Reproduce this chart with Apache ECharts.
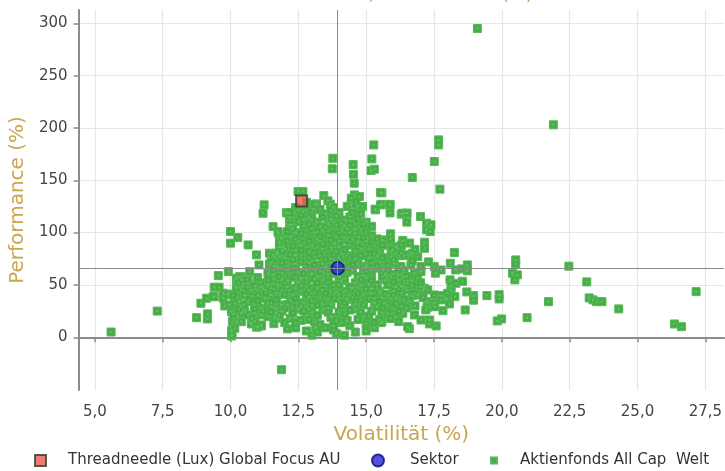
<!DOCTYPE html>
<html>
<head>
<meta charset="utf-8">
<title>Performance / Volatilität</title>
<script src="https://cdn.jsdelivr.net/npm/echarts@6/dist/echarts.min.js"></script>
<style>
  html, body { margin: 0; padding: 0; background: #fff; }
  #chart { width: 725px; height: 471px; }
</style>
</head>
<body>
<div id="chart"></div>
<script>
// Achsen
const xTicks = [5, 7.5, 10, 12.5, 15, 17.5, 20, 22.5, 25, 27.5];
const yTicks = [0, 50, 100, 150, 200, 250, 300];

// Fonds und Sektor [Volatilität, Performance]
const fundName = 'Threadneedle (Lux) Global Focus AU';
const fundPoint = [12.62, 130.2];
const sectorName = 'Sektor';
const sectorPoint = [13.95, 65.9];
const peerName = 'Aktienfonds All Cap  Welt';

// Vergleichsgruppe, aussen
const peerOuter = [
  [5.6, 5], [7.3, 25], [19.1, 295], [21.9, 203],
  [17.67, 188.6], [17.67, 183.8], [17.51, 167.9], [16.7, 152.6], [17.72, 141.5], [15.58, 138],
  [15.88, 127], [15.88, 118.8], [15.58, 127], [16.29, 117.6], [16.47, 118.5], [16.5, 110], [17.0, 115.3],
  [17.23, 109], [17.39, 107.4], [17.23, 102.6], [17.36, 101], [15.9, 98.8], [16.35, 92.4], [17.15, 90.8], [17.15, 85],
  [18.25, 80.9], [18.1, 70.7], [18.73, 69.1], [18.73, 63.4], [18.3, 64.3], [18.5, 65.3], [17.51, 67.5], [17.55, 61.2],
  [20.51, 73.9], [20.51, 70.1], [20.39, 61.2], [20.57, 59.6], [20.48, 54.8], [22.47, 67.9], [23.13, 52.9],
  [23.22, 37.6], [23.36, 35.7], [23.49, 34], [23.69, 34], [21.72, 34], [24.31, 27.1], [27.16, 43.6], [26.36, 12.7], [26.62, 10.1],
  [20.93, 18.7], [19.83, 15.6], [19.99, 17.5], [19.45, 39.8], [19.9, 40.7], [19.9, 36.6], [18.96, 39.8], [18.96, 35.4], [18.65, 26.1],
  [18.09, 54.8], [18.13, 49.3], [18.13, 44.6], [18.31, 51.6], [18.55, 53.5], [18.71, 43.3], [18.27, 38.8],
  [17.74, 39.8], [17.95, 36.6], [18.07, 31.8], [17.83, 25.4], [17.58, 10.8], [17.33, 16.5], [17.33, 12.7],
  [17.25, 34], [17.25, 28.3], [17.5, 32.5], [17.53, 29.3], [17.14, 46.8], [16.59, 8.2],
  [17.02, 62.7], [16.78, 61.2], [16.65, 54.8], [16.71, 49.3], [17.12, 45.2], [16.9, 40.4], [16.71, 39.8], [16.53, 45.2], [16.4, 57.9], [16.35, 49],
  [16.1, 37.3], [16.1, 19.1], [16.35, 22.9], [16.04, 27.1], [15.8, 39.8], [15.67, 32.5], [15.58, 14.9], [15.58, 22.9], [15.77, 57], [15.69, 59.6],
  [16.22, 78], [16.4, 78], [16.65, 79], [15.92, 81.8], [15.92, 77], [16.1, 86.6],
  [11.88, -31], [10.04, 1.2], [10.04, 6.3], [9.15, 17.5], [9.15, 22.3], [13.9, 3.8], [13.14, 9.2], [10.96, 9.6], [11.14, 10.8], [10.77, 13.4], [15.55, 14],
  [9.55, 58.9], [9.92, 62.7], [10.65, 88.2], [10.0, 89.9], [10.96, 78.7], [11.05, 69.1], [11.44, 70], [11.38, 61.2], [11.44, 80.3], [11.69, 80.3],
  [13.77, 171], [13.75, 161], [14.52, 165], [14.53, 155.8], [14.56, 147.2], [15.28, 183.8], [15.21, 170.4], [15.18, 159.3], [15.3, 160.6], [15.53, 138.2], [15.34, 121.7], [15.53, 126.5],
  [11.24, 126.5], [11.2, 118.5], [11.57, 105.7], [11.77, 99.4], [11.87, 94.6], [12.49, 139.2], [12.67, 139.2], [12.06, 119.1], [12.18, 113.8], [12.18, 107.4],
  [13.44, 135.4], [13.59, 130.3], [13.68, 127.2], [13.17, 127.4], [13.04, 122.4], [14.57, 136], [14.75, 134.4], [14.44, 126.5], [14.69, 124.9], [14.87, 124.9], [14.45, 132.9], [14.63, 129.6],
  [10.0, 101], [10.27, 95.2], [8.75, 18.7], [8.91, 32.5], [9.12, 37.3], [9.4, 38.8], [9.4, 47.8], [9.58, 47.8], [9.36, 38.8],
  [9.73, 37.3], [9.79, 29.9], [9.94, 30.9], [10.04, 24.5], [10.07, 14.9], [10.28, 19.7], [10.4, 14.9], [10.16, 8.6], [9.89, 41.1],
  [10.06, 2.2], [10.1, 22], [10.53, 24.5], [10.77, 12.7], [11.01, 10.1], [11.14, 11.8]
];

// Vergleichsgruppe, linker Bereich
const peerLeft = [
  [10.22, 56.4], [10.34, 57.9], [10.65, 57.9], [10.71, 62.7],
  [10.22, 48.4], [10.4, 45.2], [10.65, 48.4], [10.77, 45.2], [10.96, 45.2], [11.14, 48.4], [11.26, 45.2],
  [10.28, 38.8], [10.53, 40.4], [10.77, 38.8], [11.01, 40.4], [11.26, 37.3], [11.5, 40.4], [11.69, 42.1],
  [10.16, 32.5], [10.4, 29.3], [10.65, 34], [10.89, 30.9], [11.14, 27.7], [11.38, 32.5], [11.63, 27.7], [11.88, 30.9],
  [10.4, 23], [10.65, 21.3], [10.89, 23], [11.14, 21.3], [11.38, 19.7], [11.63, 19.7], [11.75, 18.2],
  [9.73, 42.1], [9.91, 41.1], [10.22, 46.8], [10.89, 46.8], [11.38, 50], [11.75, 50], [11.2, 46.8], [11.63, 51.6], [10.4, 54.8], [10.65, 51.6], [10.89, 49],
  [12.24, 107.4], [12.36, 118.5], [12.49, 121.7], [11.75, 101], [11.81, 91.4], [11.93, 86.6], [11.75, 80.3], [11.63, 77], [11.57, 59.6], [11.73, 67.5],
  [11.93, 77], [11.81, 86.6], [11.93, 83.5], [11.57, 78.7], [11.81, 77], [11.63, 67.5],
  [14.5, 123.3], [12.67, 120], [12.79, 121.7], [12.12, 118.5], [12.49, 110.5], [12.67, 112.1],
  [10.3, 52], [10.5, 44], [10.7, 36], [10.9, 27], [11.1, 52], [11.3, 42], [11.5, 30], [11.7, 23], [10.5, 31], [10.8, 18],
  [11.0, 35], [11.2, 25], [11.4, 55], [10.1, 40], [10.3, 27], [10.6, 55], [11.0, 57], [11.5, 47], [10.9, 15], [11.6, 13]
];

// Vergleichsgruppe, rechter Bereich
const peerRight = [
  [15.33, 122.4], [15.88, 126.5], [16.34, 118.5], [16.51, 118.5],
  [15.61, 93], [15.79, 88.2], [15.98, 83.5], [16.16, 85.1], [16.28, 80.3], [16.53, 78.7], [16.71, 80.3], [16.9, 77], [17.02, 67.5], [17.76, 64.3],
  [16.04, 70.7], [16.28, 67.5], [16.65, 69.1], [16.16, 59.6], [15.92, 57.9],
  [16.28, 48.4], [16.53, 51.6], [16.78, 42], [17.02, 48.4], [17.27, 45.2], [17.51, 40.4], [17.76, 35.7], [18.0, 42], [17.51, 29.3], [17.2, 26.1], [17.02, 16.5], [16.53, 10.1], [16.78, 21.3],
  [15.9, 94], [16.3, 88], [16.6, 90], [16.8, 84], [16.4, 64], [16.9, 57], [16.7, 73], [17.3, 72], [17.0, 52], [16.6, 35],
  [16.8, 30], [17.1, 38], [16.2, 15], [16.5, 28]
];

// Vergleichsgruppe, dichter Kern
const peerCore = [
  [13.1, 127], [13.3, 122], [13.5, 118], [13.8, 124], [14.0, 119], [14.2, 112], [13.2, 110], [13.6, 108], [14.4, 115], [14.6, 108], [14.8, 118],
  [12.9, 114], [13.9, 104], [14.1, 102], [13.4, 102], [12.7, 106], [15.0, 110], [14.3, 125], [13.0, 119], [12.4, 124], [12.2, 119], [12.8, 129], [13.7, 113],
  [12.2, 96], [12.5, 92], [12.8, 98], [13.0, 88], [13.2, 94], [13.4, 84], [13.6, 97], [13.8, 90], [14.0, 86], [14.2, 95], [14.4, 88], [14.6, 99],
  [14.8, 84], [15.0, 92], [15.3, 87], [12.4, 83], [12.9, 82], [13.5, 81], [14.1, 80], [14.7, 91], [15.2, 97], [13.1, 100], [13.7, 86], [14.3, 93],
  [12.6, 88], [15.5, 82], [11.8, 90], [12.0, 85],
  [11.5, 72], [11.8, 66], [12.0, 76], [12.2, 60], [12.4, 70], [12.6, 78], [12.8, 64], [13.0, 73], [13.2, 58], [13.3, 78], [13.5, 67], [13.7, 75],
  [13.9, 61], [14.1, 72], [14.3, 78], [14.5, 64], [14.7, 70], [14.9, 59], [15.1, 76], [15.3, 66], [15.5, 72], [15.7, 60], [12.1, 68], [12.5, 62],
  [13.1, 65], [13.6, 60], [14.0, 76], [14.6, 75], [15.0, 68], [15.4, 78], [12.9, 71], [14.2, 67], [13.4, 70], [11.9, 61], [15.8, 69],
  [11.9, 55], [12.1, 48], [12.3, 40], [12.5, 52], [12.7, 33], [12.9, 45], [13.1, 56], [13.3, 38], [13.5, 49], [13.7, 31], [13.9, 43], [14.1, 54],
  [14.3, 36], [14.5, 47], [14.7, 58], [14.9, 40], [15.1, 51], [15.3, 33], [15.5, 44], [15.7, 55], [15.9, 37], [16.1, 48], [16.3, 42], [12.2, 35],
  [12.6, 44], [13.0, 30], [13.4, 55], [13.8, 50], [14.2, 44], [14.6, 32], [15.0, 57], [15.4, 50], [15.8, 30], [12.4, 57], [13.2, 47], [14.0, 37],
  [14.8, 50], [15.6, 38], [16.2, 55],
  [11.9, 25], [12.2, 18], [12.5, 27], [12.8, 21], [13.1, 15], [13.4, 26], [13.7, 19], [14.0, 24], [14.3, 16], [14.6, 27], [14.9, 20], [15.2, 25],
  [15.5, 17], [15.8, 23], [12.0, 14], [13.0, 24], [14.1, 14], [15.0, 13], [12.6, 16],
  [12.1, 8], [12.8, 6], [13.5, 9], [14.6, 5], [15.3, 9], [13.0, 2], [14.4, 11],
  [12.3, 74], [12.7, 90], [13.0, 104], [13.3, 92], [13.6, 102], [13.9, 96], [14.2, 106], [14.5, 93], [14.8, 102], [15.1, 85], [12.4, 100],
  [13.8, 110], [14.4, 100], [15.3, 80], [13.2, 86], [14.0, 92], [14.6, 82],
  [12.1, 54], [12.4, 47], [12.8, 56], [13.1, 42], [13.4, 62], [13.7, 44], [14.0, 58], [14.3, 62], [14.6, 52], [14.9, 66], [15.2, 60], [15.6, 64],
  [16.0, 60], [16.4, 52], [12.9, 38], [13.6, 36], [14.4, 40], [15.2, 42], [16.0, 44],
  [12.3, 29], [12.9, 27], [13.4, 32], [14.1, 30], [14.8, 36], [15.4, 29], [16.1, 32], [16.4, 36]
];

// Vergleichsgruppe, zweite Lage im Kern
const peerCoreFill = [
  [13.0, 112], [13.4, 115], [13.7, 121], [14.1, 109], [14.5, 119], [14.7, 113], [13.3, 106], [13.9, 116], [14.3, 104], [12.6, 117],
  [12.3, 104], [12.6, 99], [12.9, 108], [13.2, 101], [13.5, 105], [13.8, 99], [14.1, 96], [14.4, 107], [14.7, 96], [15.0, 101],
  [15.2, 106], [12.1, 101], [13.9, 107], [14.9, 108],
  [12.1, 92], [12.3, 87], [12.6, 83], [12.9, 92], [13.1, 81], [13.4, 89], [13.7, 93], [13.9, 82], [14.2, 84], [14.4, 91],
  [14.7, 86], [15.0, 80], [15.2, 91], [15.4, 94], [11.9, 82], [12.4, 94], [13.3, 96], [14.9, 95], [15.6, 88],
  [11.7, 75], [11.9, 71], [12.2, 79], [12.3, 66], [12.6, 72], [12.7, 61], [12.9, 76], [13.1, 69], [13.3, 63], [13.5, 74],
  [13.7, 67], [13.8, 79], [14.0, 64], [14.2, 71], [14.4, 76], [14.5, 69], [14.8, 78], [15.0, 63], [15.2, 71], [15.4, 68],
  [15.6, 76], [15.8, 64], [16.0, 74], [16.2, 65], [11.6, 64],
  [11.8, 58], [12.0, 52], [12.2, 45], [12.3, 58], [12.6, 49], [12.8, 53], [13.0, 47], [13.2, 52], [13.4, 45], [13.6, 57],
  [13.8, 46], [14.0, 50], [14.2, 56], [14.4, 48], [14.6, 44], [14.8, 55], [15.0, 46], [15.2, 54], [15.4, 47], [15.6, 58],
  [15.8, 50], [16.0, 53], [16.2, 46], [16.5, 58], [11.6, 46], [11.9, 45],
  [11.7, 36], [12.0, 41], [12.1, 31], [12.4, 37], [12.6, 30], [12.8, 41], [13.0, 35], [13.2, 31], [13.5, 42], [13.6, 28],
  [13.8, 37], [14.0, 41], [14.2, 33], [14.5, 38], [14.7, 42], [14.9, 31], [15.1, 37], [15.3, 42], [15.5, 34], [15.7, 41],
  [16.0, 40], [16.3, 30], [11.5, 33],
  [11.5, 24], [11.8, 21], [12.0, 28], [12.3, 23], [12.4, 14], [12.7, 25], [12.9, 17], [13.2, 21], [13.3, 12], [13.6, 24],
  [13.9, 16], [14.2, 22], [14.4, 26], [14.7, 17], [14.8, 24], [15.1, 20], [15.3, 14], [15.6, 28], [15.9, 18], [16.2, 25], [13.8, 11],
  [12.4, 9], [13.2, 5], [13.8, 7], [14.2, 2], [15.0, 6]
];

const peerPoints = peerOuter.concat(peerLeft, peerRight, peerCore, peerCoreFill);

const gold = '#c9a64f';
const axisGray = '#8c8c8c';
const font = 'DejaVu Sans';

const chart = echarts.init(document.getElementById('chart'));

const option = {
  animation: false,
  title: {
    text: 'Volatilität / Performance (%)',
    left: 401,
    textAlign: 'center',
    top: -19,
    textStyle: { color: gold, fontSize: 18, fontWeight: 'normal', fontFamily: font }
  },
  grid: { left: 77, right: 0, top: 10, bottom: 81 },
  xAxis: {
    type: 'value',
    min: 4.4,
    max: 28.19,
    offset: 5,
    name: 'Volatilität (%)',
    nameLocation: 'middle',
    nameGap: 28,
    nameTextStyle: { color: gold, fontSize: 20, fontFamily: font },
    axisLine: { show: true, lineStyle: { color: axisGray, width: 2 } },
    axisTick: { show: true, length: 5, customValues: xTicks, lineStyle: { color: axisGray, width: 1.5 } },
    axisLabel: {
      customValues: xTicks, color: '#444', fontSize: 15, fontFamily: font, margin: 10,
      formatter: v => v.toFixed(1).replace('.', ',')
    },
    splitLine: { show: true, lineStyle: { color: '#e6e6e6', width: 1.2 } }
  },
  yAxis: {
    type: 'value',
    min: -50.4,
    max: 312.7,
    name: 'Performance (%)',
    nameLocation: 'middle',
    nameGap: 43,
    nameTextStyle: { color: gold, fontSize: 20, fontFamily: font },
    axisLine: { show: true, lineStyle: { color: axisGray, width: 2 } },
    axisTick: { show: true, length: 5, customValues: yTicks, lineStyle: { color: axisGray, width: 1.5 } },
    axisLabel: { customValues: yTicks, color: '#444', fontSize: 15, fontFamily: font, margin: 11 },
    splitLine: { show: true, lineStyle: { color: '#e6e6e6', width: 1.2 } }
  },
  legend: [
    {
      data: [fundName], left: 29, top: 448, itemWidth: 11, itemHeight: 11, selectedMode: false,
      textStyle: { color: '#333', fontSize: 15, fontFamily: font, padding: [0, 0, 0, 17] }
    },
    {
      data: [sectorName], left: 366, top: 448, itemWidth: 12, itemHeight: 12, selectedMode: false,
      textStyle: { color: '#333', fontSize: 15, fontFamily: font, padding: [0, 0, 0, 21] }
    },
    {
      data: [peerName], left: 485, top: 448, itemWidth: 6, itemHeight: 6, selectedMode: false,
      textStyle: { color: '#333', fontSize: 15, fontFamily: font, padding: [0, 0, 0, 18] }
    }
  ],
  series: [
    {
      name: peerName,
      type: 'scatter',
      symbol: 'rect',
      symbolSize: 8,
      data: peerPoints,
      itemStyle: { color: '#46ad48', borderColor: '#58b859', borderWidth: 1, opacity: 1 },
      emphasis: { disabled: true },
      z: 2
    },
    {
      name: 'peerDots',
      type: 'scatter',
      symbol: 'rect',
      symbolSize: 2,
      data: peerPoints,
      itemStyle: { color: '#62cc62' },
      silent: true,
      emphasis: { disabled: true },
      z: 3
    },
    {
      name: sectorName,
      type: 'scatter',
      symbol: 'circle',
      symbolSize: 13,
      data: [sectorPoint],
      itemStyle: { color: '#2727d6', borderColor: '#0b0b7a', borderWidth: 1.5 },
      emphasis: { disabled: true },
      markLine: {
        silent: true,
        symbol: 'none',
        animation: false,
        label: { show: false },
        lineStyle: { color: '#8a8a8a', width: 1, type: 'solid' },
        data: [{ xAxis: sectorPoint[0] }, { yAxis: sectorPoint[1] }]
      },
      z: 4
    },
    {
      name: fundName,
      type: 'scatter',
      symbol: 'rect',
      symbolSize: 11,
      data: [fundPoint],
      itemStyle: { color: '#f4574b', borderColor: '#2b3f2b', borderWidth: 2 },
      emphasis: { disabled: true },
      z: 5
    }
  ]
};

chart.setOption(option);
</script>
</body>
</html>
